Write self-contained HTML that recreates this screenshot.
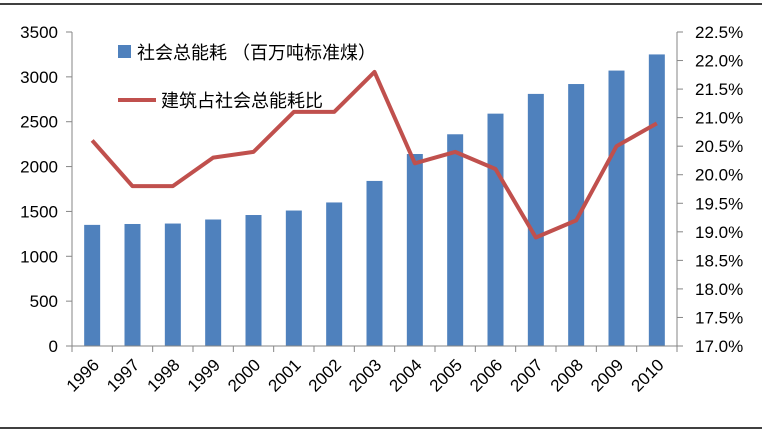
<!DOCTYPE html>
<html><head><meta charset="utf-8"><style>
body{margin:0;background:#fff}
svg text{font-family:"Liberation Sans","Noto Sans CJK SC",sans-serif;font-size:17px;fill:#000}
</style></head><body>
<svg width="762" height="430" viewBox="0 0 762 430" xmlns="http://www.w3.org/2000/svg">
<rect width="762" height="430" fill="#fff"/>
<line x1="0" y1="4" x2="762" y2="4" stroke="#000" stroke-width="1.5"/>
<line x1="0" y1="428" x2="762" y2="428" stroke="#000" stroke-width="1.5"/>
<g id="bars" fill="#4f81bd"></g>
<g stroke="#868686" stroke-width="1" id="axes"></g>
<polyline id="ln" fill="none" stroke="#c0504d" stroke-width="4" stroke-linejoin="round"/>
<g id="lbl"></g>
<rect x="118" y="45" width="13" height="13" fill="#4f81bd"/>
<text x="137" y="59" style="font-size:18px">社会总能耗 （百万吨标准煤）</text>
<line x1="118" y1="100" x2="156" y2="100" stroke="#c0504d" stroke-width="4"/>
<text x="161" y="107" style="font-size:18px">建筑占社会总能耗比</text>
</svg>
<script>
const ns="http://www.w3.org/2000/svg";
function el(t,a,p,txt){const e=document.createElementNS(ns,t);for(const k in a)e.setAttribute(k,a[k]);if(txt!=null)e.textContent=txt;document.getElementById(p).appendChild(e);return e;}
const X0=72,X1=677,Y0=346,Y1=32,W=(X1-X0)/15;
const bars=[1350,1360,1365,1410,1460,1510,1600,1840,2140,2360,2590,2810,2920,3070,3250];
const pct=[20.6,19.8,19.8,20.3,20.4,21.1,21.1,21.8,20.2,20.4,20.1,18.9,19.2,20.5,20.9];
const yl=v=>Y0-v*(Y0-Y1)/3500, yr=p=>Y0-(p-17)*(Y0-Y1)/5.5;
let pts=[];
bars.forEach((v,i)=>{const c=X0+W*(i+.5);el("rect",{x:c-8,y:yl(v),width:16,height:Y0-yl(v)},"bars");pts.push(c+","+yr(pct[i]));
el("text",{x:0,y:0,transform:`translate(${c+8},${Y0+20}) rotate(-45)`,"text-anchor":"end"},"lbl",1996+i);});
document.getElementById("ln").setAttribute("points",pts.join(" "));
el("line",{x1:X0,y1:Y1,x2:X0,y2:Y0},"axes");el("line",{x1:X1,y1:Y1,x2:X1,y2:Y0},"axes");el("line",{x1:X0,y1:Y0,x2:X1,y2:Y0},"axes");
for(let v=0;v<=3500;v+=500){const y=yl(v);el("line",{x1:X0-6,y1:y,x2:X0,y2:y},"axes");el("text",{x:58,y:y+6,"text-anchor":"end"},"lbl",v);}
for(let i=0;i<=11;i++){const p=17+i*.5,y=yr(p);el("line",{x1:X1,y1:y,x2:X1+6,y2:y},"axes");el("text",{x:695,y:y+6},"lbl",p.toFixed(1)+"%");}
for(let i=0;i<=15;i++){const x=X0+W*i;el("line",{x1:x,y1:Y0,x2:x,y2:Y0+6},"axes");}
</script>
</body></html>
